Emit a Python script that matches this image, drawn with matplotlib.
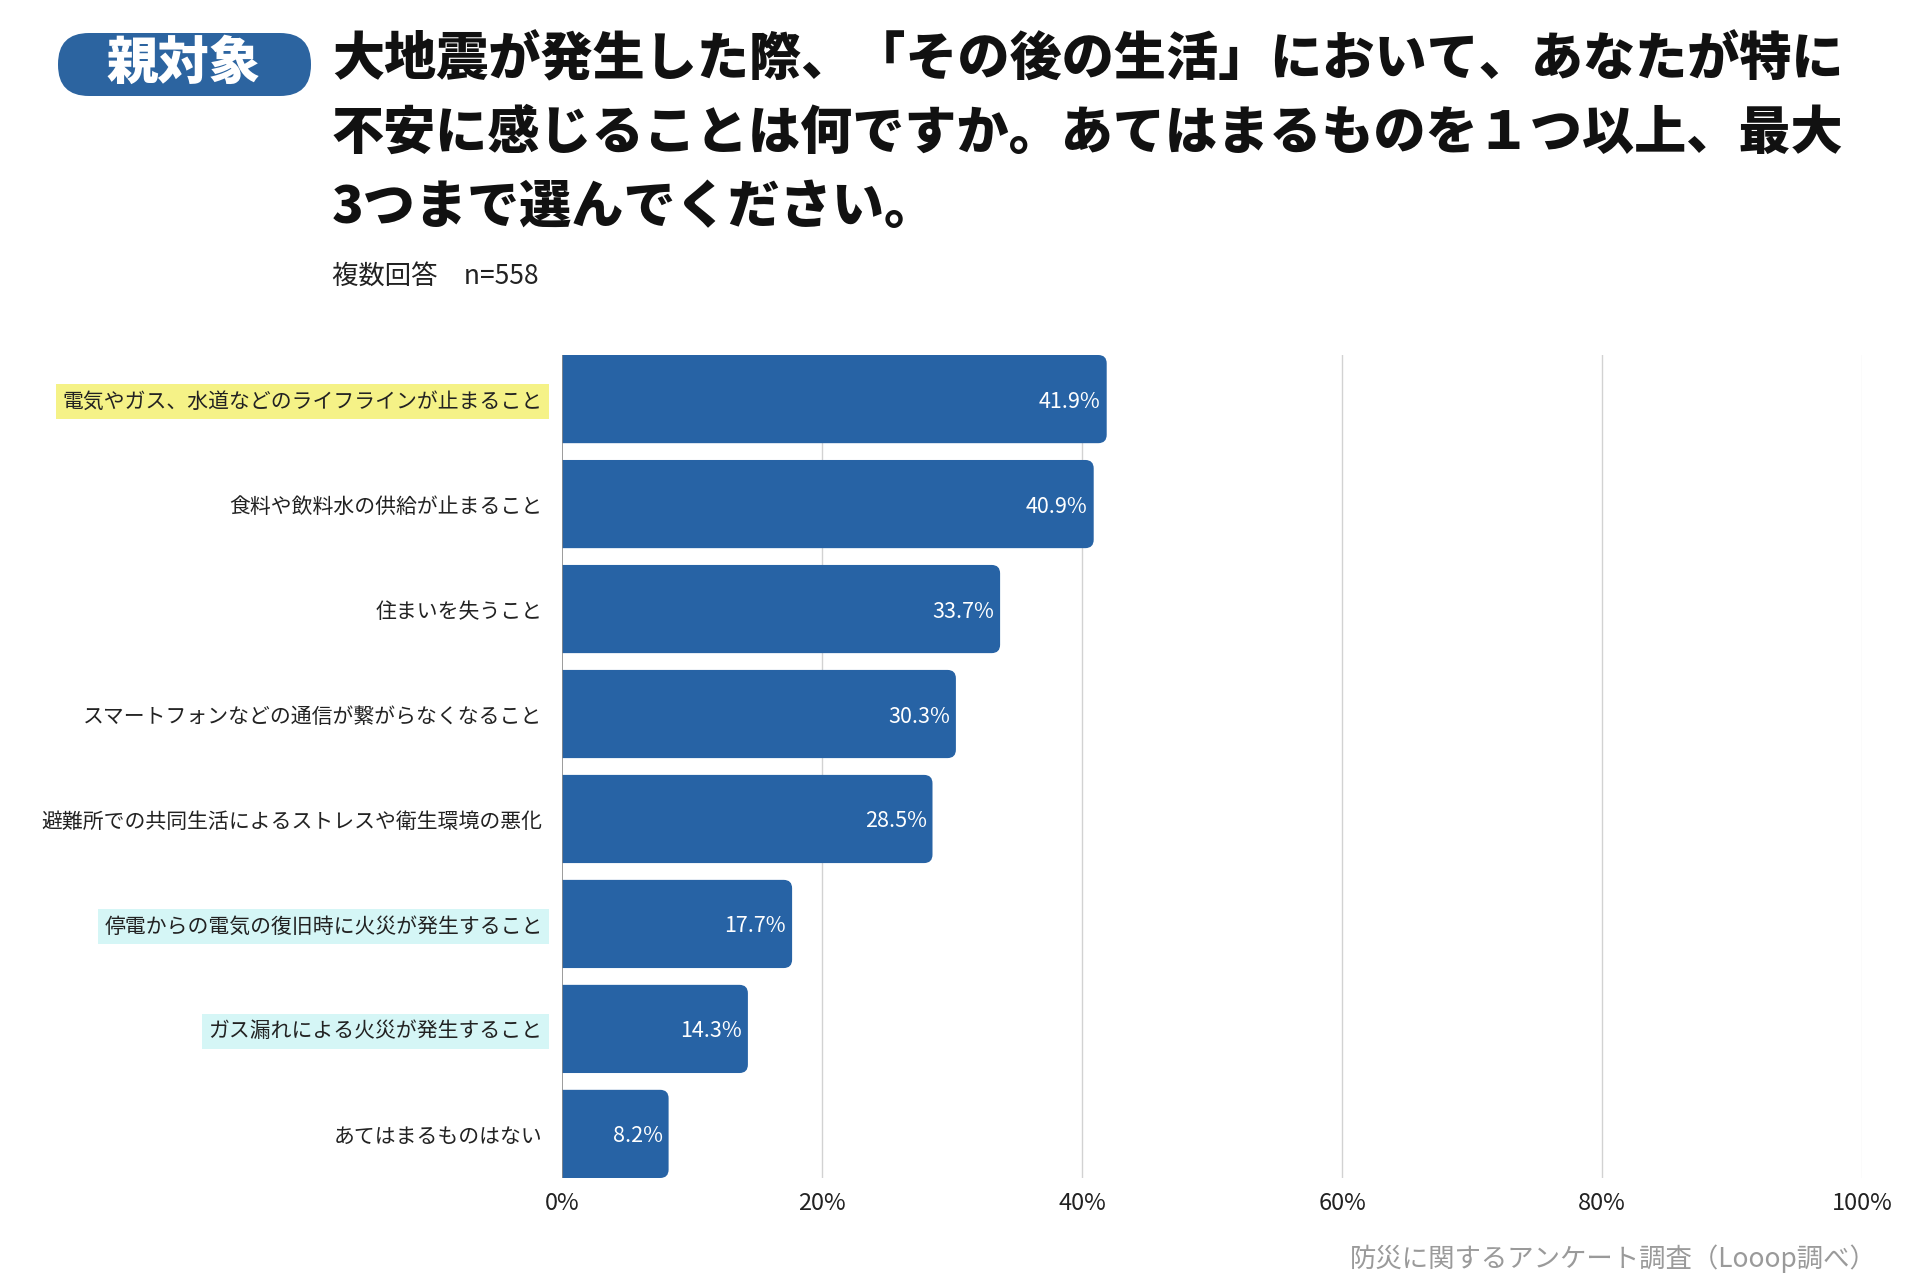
import matplotlib
matplotlib.use("Agg")
import matplotlib.pyplot as plt
from matplotlib.patches import FancyBboxPatch

plt.rcParams['font.family'] = ['Noto Sans CJK JP', 'DejaVu Sans']

# data
categories = [
    "電気やガス、水道などのライフラインが止まること",
    "食料や飲料水の供給が止まること",
    "住まいを失うこと",
    "スマートフォンなどの通信が繋がらなくなること",
    "避難所での共同生活によるストレスや衛生環境の悪化",
    "停電からの電気の復旧時に火災が発生すること",
    "ガス漏れによる火災が発生すること",
    "あてはまるものはない",
]
values = [41.9, 40.9, 33.7, 30.3, 28.5, 17.7, 14.3, 8.2]
xticks = [0, 20, 40, 60, 80, 100]

title_lines = [
    "大地震が発生した際、「その後の生活」において、あなたが特に",
    "不安に感じることは何ですか。あてはまるものを１つ以上、最大",
    "3つまで選んでください。",
]
subtitle = "複数回答　n=558"
badge = "親対象"
source = "防災に関するアンケート調査（Looop調べ）"

BAR = "#2763a5"
highlight = {0: "#f5f287", 5: "#d5f6f6", 6: "#d5f6f6"}

W, H = 1920, 1280
fig = plt.figure(figsize=(W / 100, H / 100), dpi=100)
ax = fig.add_axes([562 / W, 102 / H, 1300 / W, 823 / H])

bar_h = 0.84
ax.set_xlim(0, 100)
ax.set_ylim(len(values) - 1 + 0.42, -0.42)

# grid
for t in xticks[1:]:
    ax.axvline(t, color="#eeeeee" if t == 100 else "#d2d2d2", lw=1.0, zorder=0)

# rounded bars (right end only - left end is clipped by the axes)
px_x = 1300 / 100
px_y = 823 / (len(values) - 1 + 0.84)
for i, v in enumerate(values):
    p = FancyBboxPatch((-3, i - bar_h / 2), v + 3, bar_h,
                       boxstyle="round,pad=0,rounding_size=0.65",
                       mutation_aspect=px_x / px_y,
                       fc=BAR, ec="none", zorder=2, clip_on=True)
    ax.add_patch(p)
    ax.text(v - 0.45, i, f"{v:.1f}%", ha="right", va="center_baseline",
            color="white", fontsize=15.5, zorder=3)

ax.axvline(0, color="#8a8a8a", lw=1.2, zorder=4)

for s in ax.spines.values():
    s.set_visible(False)

ax.set_xticks(xticks, [f"{t}%" for t in xticks])
ax.set_yticks(range(len(categories)), categories)
ax.tick_params(axis="x", length=0, pad=10, labelsize=17, colors="#222222")
ax.tick_params(axis="y", length=0, pad=14, labelsize=15, colors="#222222")
for i, lab in enumerate(ax.get_yticklabels()):
    if i in highlight:
        lab.set_bbox(dict(boxstyle="square,pad=0.3", fc=highlight[i], ec="none"))

# header
badge_box = FancyBboxPatch((58 / W, 1 - 96 / H), 253 / W, 63 / H,
                           boxstyle="round,pad=0,rounding_size=%f" % (31 / W),
                           mutation_aspect=W / H,
                           transform=fig.transFigure, fc="#2c64a0", ec="none")
fig.patches.append(badge_box)
fig.text(184 / W, 1 - 64 / H, badge, ha="center", va="center",
         color="white", fontsize=37, fontweight="heavy")

for k, line in enumerate(title_lines):
    fig.text(332 / W, 1 - (60 + 74 * k) / H, line, ha="left", va="center",
             fontsize=37.5, fontweight="heavy", color="#111111")

fig.text(332 / W, 1 - 276 / H, subtitle, ha="left", va="center",
         fontsize=19, color="#222222")

fig.text(1877 / W, 1 - 1259 / H, source, ha="right", va="center",
         fontsize=19, color="#9a9a9a")

fig.savefig("out.png", dpi=100, facecolor="white")
